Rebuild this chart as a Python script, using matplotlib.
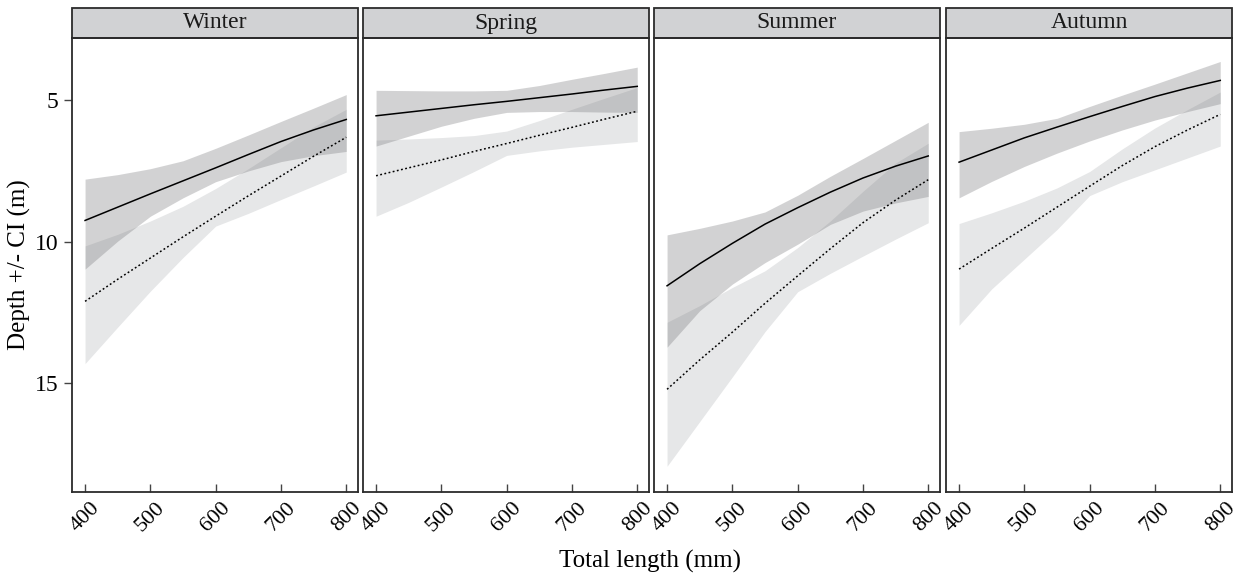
import numpy as np
import matplotlib.pyplot as plt
from matplotlib.patches import Rectangle

plt.rcParams['font.family'] = ['Liberation Serif', 'DejaVu Serif']

# total length (mm) where the curves were read
length = [400, 450, 500, 550, 600, 650, 700, 750, 800]
seasons = ["Winter", "Spring", "Summer", "Autumn"]

# solid line (fit 1) and its CI, depth in m
solid_fit = {
    "Winter": [9.25, 8.78, 8.31, 7.85, 7.39, 6.92, 6.46, 6.05, 5.68],
    "Spring": [5.55, 5.42, 5.29, 5.16, 5.04, 4.91, 4.78, 4.64, 4.51],
    "Summer": [11.56, 10.78, 10.06, 9.38, 8.80, 8.25, 7.75, 7.33, 6.97],
    "Autumn": [7.19, 6.76, 6.33, 5.95, 5.58, 5.22, 4.87, 4.57, 4.30],
}
solid_lo = {
    "Winter": [7.79, 7.63, 7.42, 7.14, 6.70, 6.23, 5.75, 5.28, 4.80],
    "Spring": [4.65, 4.66, 4.67, 4.67, 4.65, 4.48, 4.26, 4.05, 3.83],
    "Summer": [9.76, 9.53, 9.27, 8.95, 8.36, 7.69, 7.06, 6.42, 5.78],
    "Autumn": [6.11, 5.99, 5.85, 5.64, 5.22, 4.82, 4.43, 4.03, 3.63],
}
solid_hi = {
    "Winter": [10.97, 9.98, 9.10, 8.45, 7.88, 7.50, 7.17, 6.96, 6.81],
    "Spring": [6.62, 6.27, 5.92, 5.64, 5.43, 5.40, 5.40, 5.42, 5.43],
    "Summer": [13.73, 12.44, 11.50, 10.74, 10.09, 9.39, 8.92, 8.63, 8.40],
    "Autumn": [8.45, 7.87, 7.34, 6.87, 6.44, 6.05, 5.70, 5.40, 5.12],
}
# dotted line (fit 2) and its CI
dot_fit = {
    "Winter": [12.11, 11.33, 10.58, 9.83, 9.10, 8.38, 7.68, 6.98, 6.31],
    "Spring": [7.67, 7.39, 7.11, 6.81, 6.53, 6.24, 5.96, 5.67, 5.39],
    "Summer": [15.22, 14.18, 13.20, 12.18, 11.21, 10.25, 9.33, 8.53, 7.81],
    "Autumn": [10.97, 10.24, 9.52, 8.78, 8.04, 7.31, 6.64, 6.05, 5.50],
}
dot_lo = {
    "Winter": [10.15, 9.74, 9.27, 8.75, 8.12, 7.42, 6.68, 5.94, 5.32],
    "Spring": [6.41, 6.37, 6.32, 6.25, 6.09, 5.72, 5.32, 4.93, 4.55],
    "Summer": [12.85, 12.26, 11.62, 11.03, 10.21, 9.27, 8.22, 7.22, 6.52],
    "Autumn": [9.36, 8.98, 8.57, 8.10, 7.52, 6.72, 5.98, 5.33, 4.71],
}
dot_hi = {
    "Winter": [14.31, 13.02, 11.75, 10.56, 9.45, 9.00, 8.51, 8.03, 7.54],
    "Spring": [9.10, 8.61, 8.07, 7.52, 6.95, 6.79, 6.66, 6.56, 6.46],
    "Summer": [17.94, 16.36, 14.78, 13.18, 11.77, 11.12, 10.51, 9.91, 9.33],
    "Autumn": [12.96, 11.67, 10.62, 9.57, 8.37, 7.88, 7.46, 7.04, 6.62],
}

W, H = 1238, 577
fig = plt.figure(figsize=(W / 100, H / 100), dpi=100)

# panel edges in pixels (left, right)
edges = [(72, 358), (363, 649), (654, 940), (946, 1232)]
top, bottom = 38, 492
strip_h = 30
edge_col = "#2b2b2b"

for i, (s, (x0, x1)) in enumerate(zip(seasons, edges)):
    ax = fig.add_axes([x0 / W, (H - bottom) / H, (x1 - x0) / W, (bottom - top) / H])
    ax.fill_between(length, dot_lo[s], dot_hi[s], color="#e6e7e8", lw=0)
    ax.fill_between(length, solid_lo[s], solid_hi[s], color="#757578", alpha=0.32, lw=0)
    ax.plot(length, solid_fit[s], color="black", lw=1.1)
    ax.plot(length, dot_fit[s], color="black", lw=1.1, ls=(0, (1.2, 1.6)))

    ax.set_xlim(380, 818)
    ax.set_ylim(18.85, 2.8)
    ax.set_xticks([400, 500, 600, 700, 800])
    ax.set_xticklabels(["400", "500", "600", "700", "800"], rotation=45,
                       ha="center", va="top", fontsize=16)
    ax.tick_params(axis="x", direction="in", length=6, width=1, color="#444444", pad=5)
    if i == 0:
        ax.set_yticks([5, 10, 15])
        ax.set_yticklabels(["5", "10", "15"], fontsize=17)
        ax.tick_params(axis="y", direction="out", length=6, width=1, color="#444444")
    else:
        ax.set_yticks([])
    for sp in ax.spines.values():
        sp.set_color(edge_col)
        sp.set_linewidth(1.3)

    # facet strip
    hh = strip_h / (bottom - top)
    ax.add_patch(Rectangle((0, 1), 1, hh, transform=ax.transAxes, clip_on=False,
                           facecolor="#d1d2d4", edgecolor=edge_col, lw=1.3))
    ax.text(0.5, 1 + hh / 2, s, transform=ax.transAxes, ha="center", va="center",
            fontsize=17, color="#1a1a1a")

fig.text(19 / W, 1 - 265 / H, "Depth +/- CI (m)", rotation=90, ha="center",
         va="center", fontsize=18)
fig.text(650 / W, 1 - 561 / H, "Total length (mm)", ha="center", va="center",
         fontsize=18)

fig.savefig("out.png", dpi=100)
